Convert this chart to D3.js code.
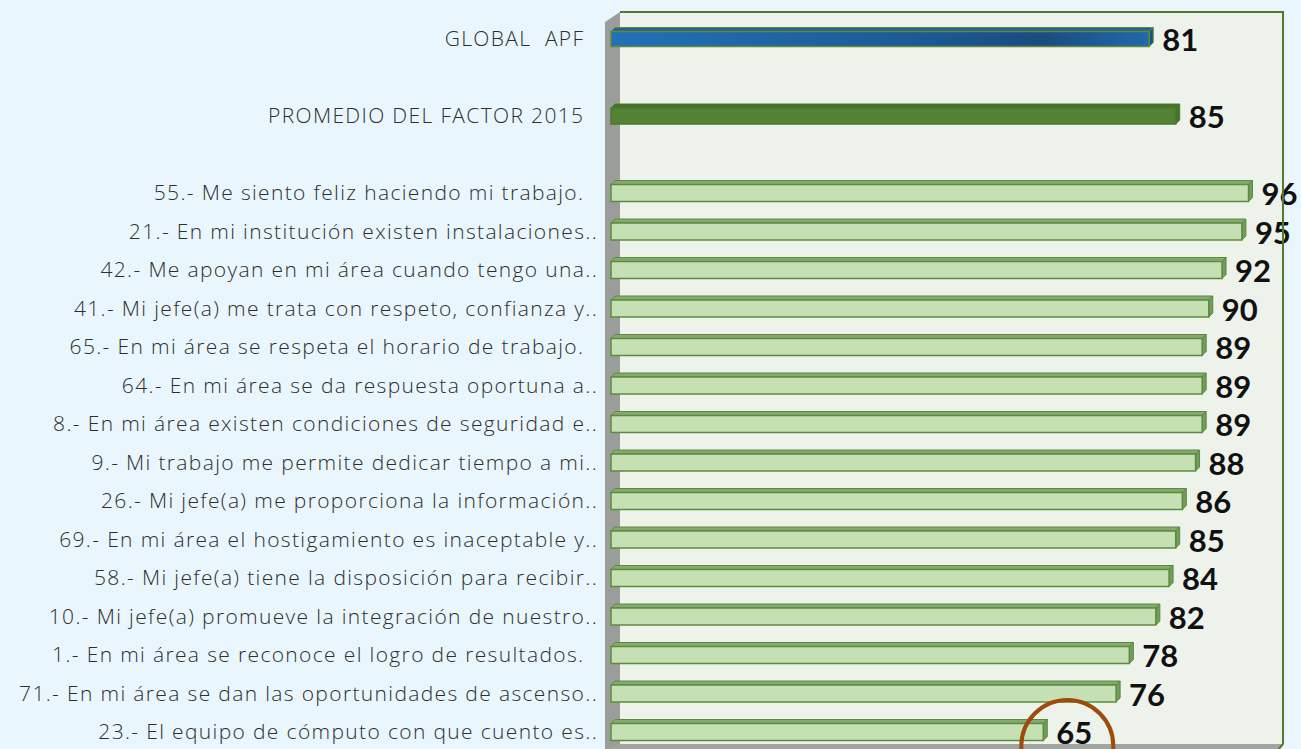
<!DOCTYPE html>
<html>
<head>
<meta charset="utf-8">
<script src="https://cdn.jsdelivr.net/npm/d3@7"></script>
<style>
  html, body { margin: 0; padding: 0; background: #eaf6fd; }
  svg { display: block; }
  .cat { white-space: pre; }
</style>
</head>
<body>
<script>
const categories = [
  "GLOBAL  APF  ",
  "PROMEDIO DEL FACTOR 2015  ",
  "55.- Me siento feliz haciendo mi trabajo.  ",
  "21.- En mi institución existen instalaciones..",
  "42.- Me apoyan en mi área cuando tengo una..",
  "41.- Mi jefe(a) me trata con respeto, confianza y..",
  "65.- En mi área se respeta el horario de trabajo.  ",
  "64.- En mi área se da respuesta oportuna a..",
  "8.- En mi área existen condiciones de seguridad e..",
  "9.- Mi trabajo me permite dedicar tiempo a mi..",
  "26.- Mi jefe(a) me proporciona la información..",
  "69.- En mi área el hostigamiento es inaceptable y..",
  "58.- Mi jefe(a) tiene la disposición para recibir..",
  "10.- Mi jefe(a) promueve la integración de nuestro..",
  "1.- En mi área se reconoce el logro de resultados.  ",
  "71.- En mi área se dan las oportunidades de ascenso..",
  "23.- El equipo de cómputo con que cuento es.."
];
const values = [81, 85, 96, 95, 92, 90, 89, 89, 89, 88, 86, 85, 84, 82, 78, 76, 65];
const kinds = ["global", "factor", "item", "item", "item", "item", "item", "item", "item",
  "item", "item", "item", "item", "item", "item", "item", "item"];

const baseWidth = 1301, baseHeight = 749;

// row slot: the two header bars leave an empty slot after them
const slot = (i) => (i < 2 ? i * 2 : i + 2);

const x = d3.scaleLinear().domain([0, 100]).range([613, 1275]);
const y = d3.scalePoint().domain(d3.range(19)).range([39, 732]);

const wall = { left: 605, back: 620, top: 12, right: 1283, floor: 744 };
const depth = { dx: 4, dy: -4 };

const styles = {
  global: { fill: "url(#blueGrad)", top: "#2d5f94", side: "#1d4f80", stroke: "#5b8c3e", half: 7.5 },
  factor: { fill: "#548235", top: "#456f2b", side: "#44702a", stroke: "#4a7a2e", half: 8 },
  item: { fill: "#c5e0b3", top: "#86a872", side: "#739b5e", stroke: "#5b8c3e", half: 8.5 }
};

const svg = d3.select("body").append("svg")
  .attr("width", baseWidth)
  .attr("height", baseHeight);

const defs = svg.append("defs");
const grad = defs.append("linearGradient").attr("id", "blueGrad")
  .attr("x1", "0").attr("x2", "1").attr("y1", "0").attr("y2", "0");
grad.append("stop").attr("offset", "0%").attr("stop-color", "#2270b8");
grad.append("stop").attr("offset", "55%").attr("stop-color", "#1d5a96");
grad.append("stop").attr("offset", "80%").attr("stop-color", "#1a4c80");
grad.append("stop").attr("offset", "100%").attr("stop-color", "#2268ac");

svg.append("rect").attr("width", baseWidth).attr("height", baseHeight).attr("fill", "#eaf6fd");

// back wall
svg.append("rect")
  .attr("x", wall.back).attr("y", wall.top)
  .attr("width", wall.right - wall.back).attr("height", wall.floor - wall.top)
  .attr("fill", "#edf2eb");

// left wall
svg.append("polygon")
  .attr("points", [[wall.left, wall.top + 10], [wall.back, wall.top], [wall.back, baseHeight], [wall.left, baseHeight]].join(" "))
  .attr("fill", "#9b9d9a");

// floor
svg.append("polygon")
  .attr("points", [[wall.back, wall.floor], [wall.right, wall.floor], [wall.right - 5, baseHeight + 1], [wall.left, baseHeight + 1]].join(" "))
  .attr("fill", "#a2a4a1");

const rows = categories.map((c, i) => ({ label: c, value: values[i], kind: kinds[i], cy: y(slot(i)) }));

// category labels
svg.selectAll(".cat").data(rows).enter().append("text")
  .attr("class", "cat")
  .attr("x", 598)
  .attr("y", (d) => d.cy)
  .attr("dy", "0.35em")
  .attr("text-anchor", "end")
  .attr("fill", "#2e2e2e")
  .style("font-family", "'Open Sans', sans-serif")
  .style("font-weight", 300)
  .style("font-size", "21px")
  .style("letter-spacing", "1.35px")
  .text((d) => d.label);

const bars = svg.selectAll(".bar").data(rows).enter().append("g").attr("class", "bar");

// top face
bars.append("polygon")
  .attr("points", (d) => {
    const h = styles[d.kind].half, x0 = x(0) - 2, x1 = x(d.value);
    return [[x0, d.cy - h], [x0 + depth.dx, d.cy - h + depth.dy], [x1 + depth.dx, d.cy - h + depth.dy], [x1, d.cy - h]].join(" ");
  })
  .attr("fill", (d) => styles[d.kind].top)
  .attr("stroke", (d) => styles[d.kind].stroke)
  .attr("stroke-width", 1);

// side face
bars.append("polygon")
  .attr("points", (d) => {
    const h = styles[d.kind].half, x1 = x(d.value);
    return [[x1, d.cy - h], [x1 + depth.dx, d.cy - h + depth.dy], [x1 + depth.dx, d.cy + h + depth.dy], [x1, d.cy + h]].join(" ");
  })
  .attr("fill", (d) => styles[d.kind].side)
  .attr("stroke", (d) => styles[d.kind].stroke)
  .attr("stroke-width", 1);

// front face
bars.append("rect")
  .attr("x", x(0) - 2)
  .attr("y", (d) => d.cy - styles[d.kind].half)
  .attr("width", (d) => x(d.value) - x(0) + 2)
  .attr("height", (d) => styles[d.kind].half * 2)
  .attr("fill", (d) => styles[d.kind].fill)
  .attr("stroke", (d) => styles[d.kind].stroke)
  .attr("stroke-width", 1.5);

// value labels
svg.selectAll(".val").data(rows).enter().append("text")
  .attr("class", "val")
  .attr("x", (d) => x(d.value) + depth.dx + 9)
  .attr("y", (d) => d.cy + 1)
  .attr("dy", "0.36em")
  .attr("fill", "#111")
  .style("font-family", "Lato, 'Open Sans', sans-serif")
  .style("font-weight", 700)
  .style("font-size", "31px")
  .text((d) => d.value);

// wall borders
svg.append("path")
  .attr("d", `M${wall.back},${wall.top} H${wall.right} V${wall.floor} L${wall.right - 5},${baseHeight + 1}`)
  .attr("fill", "none")
  .attr("stroke", "#4e7a32")
  .attr("stroke-width", 2);

// highlight circle around the lowest value
const last = rows[rows.length - 1];
svg.append("circle")
  .attr("cx", x(last.value) + 24)
  .attr("cy", last.cy + 14)
  .attr("r", 46)
  .attr("fill", "none")
  .attr("stroke", "#9e4b0e")
  .attr("stroke-width", 4);
</script>
</body>
</html>
